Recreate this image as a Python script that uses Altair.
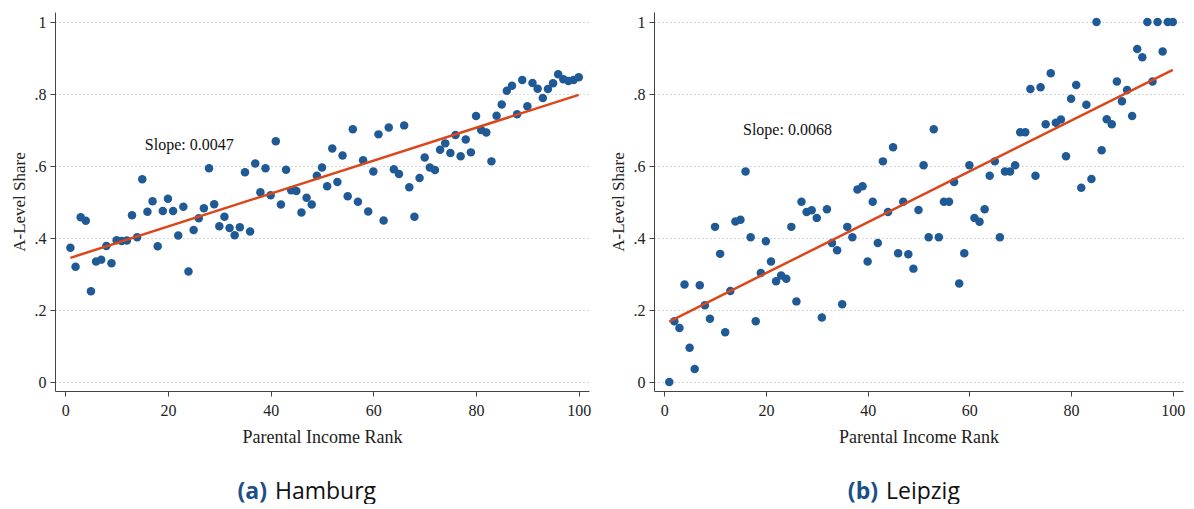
import altair as alt
import pandas as pd

ranks = list(range(1, 101))

hamburg_share = [
    0.373, 0.320, 0.458, 0.448, 0.252, 0.335, 0.340, 0.378, 0.330, 0.394,
    0.392, 0.393, 0.463, 0.402, 0.563, 0.473, 0.502, 0.377, 0.475, 0.509,
    0.475, 0.407, 0.487, 0.307, 0.422, 0.455, 0.483, 0.594, 0.494, 0.433,
    0.459, 0.428, 0.408, 0.430, 0.583, 0.418, 0.607, 0.527, 0.594, 0.519,
    0.669, 0.493, 0.590, 0.533, 0.531, 0.471, 0.512, 0.493, 0.573, 0.596,
    0.544, 0.649, 0.556, 0.629, 0.516, 0.702, 0.501, 0.616, 0.474, 0.585,
    0.688, 0.449, 0.707, 0.591, 0.578, 0.713, 0.541, 0.459, 0.567, 0.624,
    0.596, 0.589, 0.645, 0.663, 0.636, 0.686, 0.627, 0.674, 0.638, 0.739,
    0.700, 0.693, 0.613, 0.740, 0.771, 0.809, 0.823, 0.744, 0.839, 0.766,
    0.831, 0.815, 0.789, 0.814, 0.830, 0.855, 0.841, 0.836, 0.839, 0.847,
]

leipzig_share = [
    0.000, 0.169, 0.150, 0.271, 0.095, 0.036, 0.269, 0.213, 0.176, 0.431,
    0.356, 0.138, 0.253, 0.446, 0.451, 0.585, 0.402, 0.169, 0.303, 0.391,
    0.335, 0.280, 0.296, 0.287, 0.431, 0.224, 0.501, 0.472, 0.477, 0.456,
    0.179, 0.480, 0.386, 0.366, 0.216, 0.431, 0.402, 0.535, 0.544, 0.335,
    0.501, 0.386, 0.613, 0.472, 0.652, 0.358, 0.501, 0.355, 0.315, 0.478,
    0.602, 0.402, 0.702, 0.402, 0.501, 0.501, 0.556, 0.274, 0.358, 0.602,
    0.456, 0.445, 0.480, 0.573, 0.613, 0.402, 0.585, 0.585, 0.602, 0.694,
    0.694, 0.814, 0.573, 0.819, 0.716, 0.858, 0.720, 0.729, 0.627, 0.787,
    0.825, 0.540, 0.770, 0.564, 1.000, 0.644, 0.730, 0.716, 0.835, 0.780,
    0.811, 0.739, 0.925, 0.902, 1.000, 0.835, 1.000, 0.918, 1.000, 1.000,
]

slope_labels = ["Slope: 0.0047", "Slope: 0.0068"]
panel_letters = ["(a)", "(b)"]
city_names = ["Hamburg", "Leipzig"]
x_ticks = [0, 20, 40, 60, 80, 100]
y_ticks = [0, 0.2, 0.4, 0.6, 0.8, 1]

SERIF = "Liberation Serif"
SANS = "Open Sans"


def panel(values, slope_label, letter, city, label_y, width, cap_x):
    df = pd.DataFrame({"rank": ranks, "share": values})
    xenc = alt.X(
        "rank:Q",
        scale=alt.Scale(domain=[-2, 102], nice=False, zero=False),
        axis=alt.Axis(values=x_ticks, format="d", title="Parental Income Rank", grid=False,
                      labelPadding=6, titlePadding=10, titleFontSize=18),
    )
    yenc = alt.Y(
        "share:Q",
        scale=alt.Scale(domain=[-0.025, 1.028], nice=False, zero=False),
        axis=alt.Axis(
            values=y_ticks,
            labelExpr="datum.value == 0 ? '0' : (datum.value == 1 ? '1' : replace(format(datum.value, '.1f'), '0.', '.'))",
            title="A-Level Share",
            grid=True,
            gridDash=[1, 3],
            gridColor="#b0b0b0",
            gridWidth=1,
            titleFontSize=17,
        ),
    )
    base = alt.Chart(df)
    pts = base.mark_circle(size=72, color="#1F5A96", opacity=1).encode(x=xenc, y=yenc)
    line = (
        base.transform_regression("rank", "share")
        .mark_line(color="#D9471A", strokeWidth=2.5)
        .encode(x="rank:Q", y="share:Q")
    )
    txt = (
        alt.Chart(pd.DataFrame({"rank": [15.5], "share": [label_y], "label": [slope_label]}))
        .mark_text(align="left", baseline="middle", font=SERIF, fontSize=16, color="#111")
        .encode(x="rank:Q", y="share:Q", text="label:N")
    )
    cap_a = (
        alt.Chart(pd.DataFrame({"t": [letter]}))
        .mark_text(align="right", baseline="middle", font=SANS, fontSize=23,
                   fontWeight="bold", color="#1B4F85")
        .encode(x=alt.value(cap_x), y=alt.value(480), text="t:N")
    )
    cap_b = (
        alt.Chart(pd.DataFrame({"t": [city]}))
        .mark_text(align="left", baseline="middle", font=SANS, fontSize=23, color="#111")
        .encode(x=alt.value(cap_x + 8), y=alt.value(480), text="t:N")
    )
    return alt.layer(pts, line, txt, cap_a, cap_b).properties(width=width, height=379)


left = panel(hamburg_share, slope_labels[0], panel_letters[0], city_names[0], 0.658, 534, 212)
right = panel(leipzig_share, slope_labels[1], panel_letters[1], city_names[1], 0.700, 529, 224)

chart = (
    alt.hconcat(left, right, spacing=18)
    .configure(padding={"left": 2, "top": 4, "right": 0, "bottom": 0}, background="white")
    .configure_view(stroke=None)
    .configure_axis(
        labelFont=SERIF,
        titleFont=SERIF,
        labelFontSize=16,
        titleFontWeight="normal",
        labelColor="#222",
        titleColor="#222",
        domainColor="#444",
        tickColor="#444",
        tickSize=5,
        labelPadding=4,
        titlePadding=6,
    )
)

chart.save("out.html", embed_options={"renderer": "svg", "actions": False})
